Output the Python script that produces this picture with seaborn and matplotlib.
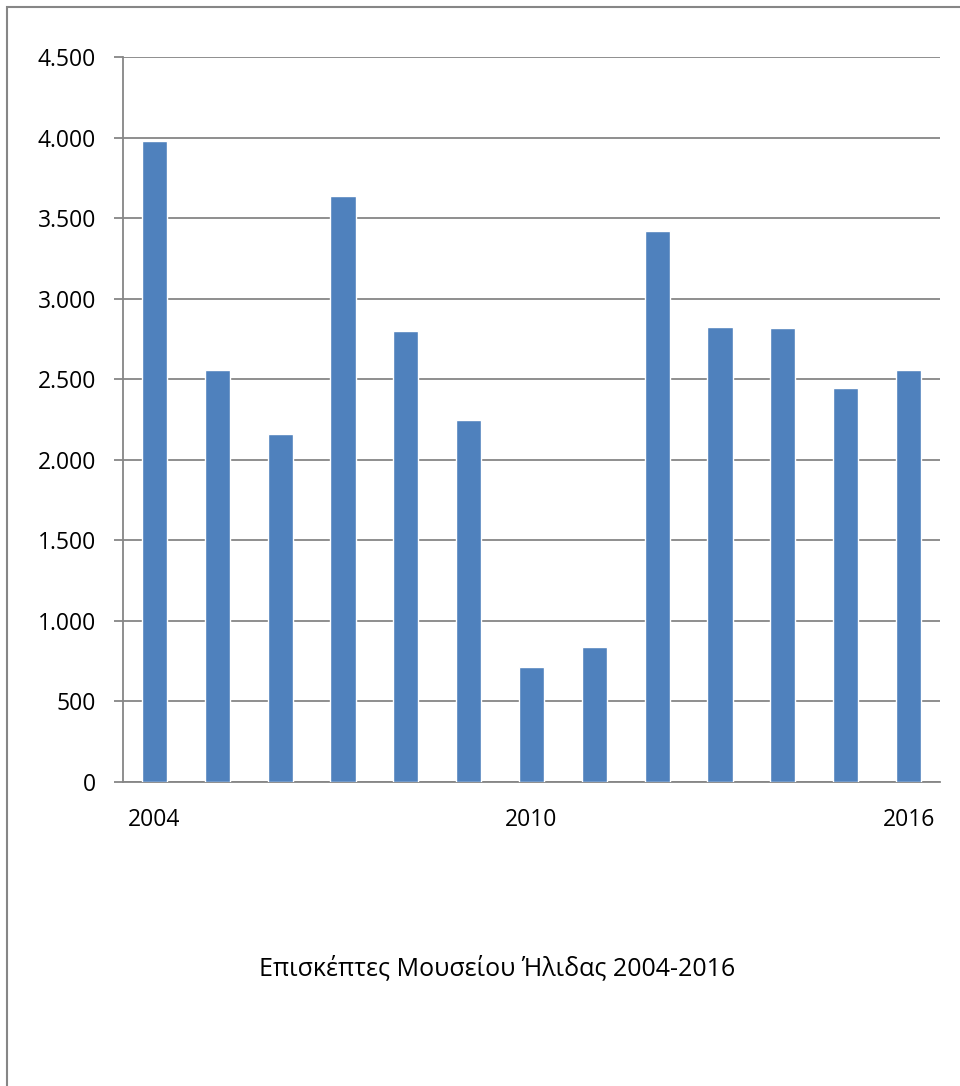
import matplotlib
matplotlib.use('Agg')
import matplotlib.pyplot as plt
import matplotlib.ticker as mticker
from matplotlib.patches import Rectangle
import seaborn as sns
import pandas as pd

years = [2004, 2005, 2006, 2007, 2008, 2009, 2010, 2011, 2012, 2013, 2014, 2015, 2016]
visitors = [3980, 2560, 2160, 3640, 2800, 2245, 715, 840, 3420, 2825, 2815, 2445, 2555]
tick_labels = ['2004', '', '', '', '', '', '2010', '', '', '', '', '', '2016']
title = 'Επισκέπτες Μουσείου Ήλιδας 2004-2016'

sns.set_style('white')
plt.rcParams['font.family'] = ['Open Sans', 'Noto Sans', 'DejaVu Sans']

df = pd.DataFrame({'year': [str(y) for y in years], 'visitors': visitors})

fig = plt.figure(figsize=(9.6, 10.86), dpi=100)
ax = fig.add_axes([123 / 960, 1 - 782 / 1086, (940 - 123) / 960, (782 - 57) / 1086])

grid_c = '#868686'
sns.barplot(data=df, x='year', y='visitors', color='#4F81BD', saturation=1,
            width=0.4, ax=ax, zorder=3)

ax.set_ylim(0, 4500)
ax.set_xlim(-0.5, len(years) - 0.5)
ax.yaxis.set_major_locator(mticker.MultipleLocator(500))
ax.yaxis.set_major_formatter(mticker.FuncFormatter(lambda v, p: f'{int(v):,}'.replace(',', '.')))
ax.yaxis.grid(True, color=grid_c, linewidth=1.3, zorder=0)
ax.set_axisbelow(True)
ax.set_xticks(range(len(years)))
ax.set_xticklabels(tick_labels)
ax.set_xlabel('')
ax.set_ylabel('')

for s in ['top', 'right']:
    ax.spines[s].set_visible(False)
for s in ['left', 'bottom']:
    ax.spines[s].set_color(grid_c)
    ax.spines[s].set_linewidth(1.3)

ax.tick_params(axis='y', left=True, length=6.5, width=1.3, color=grid_c,
               labelsize=16.5, pad=13, labelcolor='black')
ax.tick_params(axis='x', bottom=False, labelsize=16.5, pad=15, labelcolor='black')

fig.text(497 / 960, 1 - 968 / 1086, title, ha='center', va='center',
         fontsize=18, color='black')

fig.add_artist(Rectangle((7 / 960, -0.05), 1.2, 1 - 7 / 1086 + 0.05,
                         transform=fig.transFigure, fill=False,
                         edgecolor=grid_c, linewidth=1.5))

fig.savefig('out.png', dpi=100)
